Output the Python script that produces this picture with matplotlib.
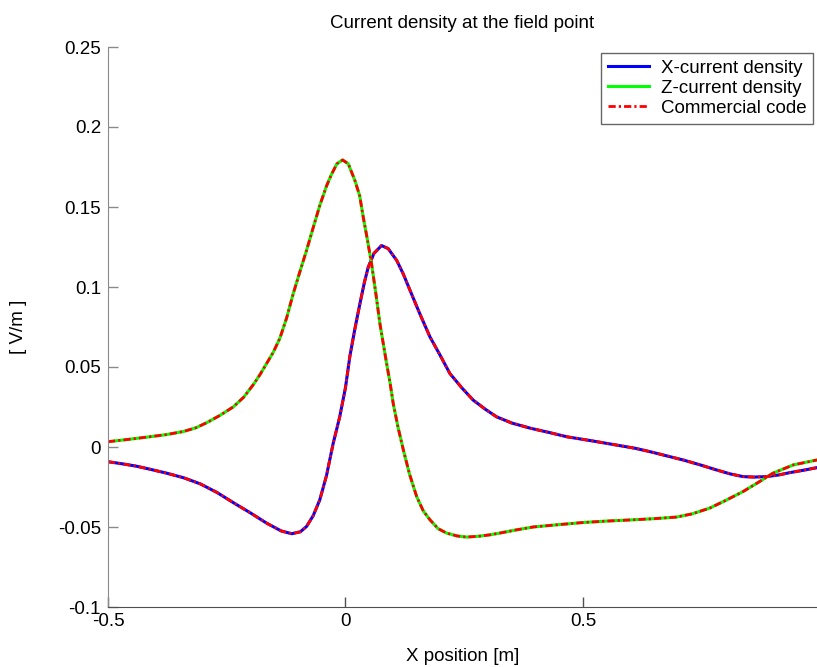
import numpy as np
import matplotlib
matplotlib.use("Agg")
import matplotlib.pyplot as plt

plt.rcParams["font.family"] = ["Liberation Sans", "DejaVu Sans"]

# X-current density (blue)
x_pos_jx = [-0.500, -0.470, -0.440, -0.410, -0.376, -0.340, -0.306, -0.270, -0.236,
            -0.200, -0.166, -0.135, -0.113, -0.095, -0.082, -0.068, -0.054, -0.040,
            -0.026, -0.012, 0.000, 0.0095, 0.020, 0.0305, 0.040, 0.048, 0.060, 0.076,
            0.090, 0.108, 0.122, 0.136, 0.157, 0.178, 0.200, 0.220, 0.245, 0.269,
            0.295, 0.318, 0.350, 0.390, 0.430, 0.466, 0.520, 0.571, 0.610, 0.641,
            0.680, 0.711, 0.745, 0.781, 0.810, 0.837, 0.860, 0.887, 0.912, 0.936,
            0.965, 0.993]
jx = [-0.0092, -0.0105, -0.0120, -0.0140, -0.0164, -0.0193, -0.0230, -0.0285, -0.0348,
      -0.0412, -0.0476, -0.0525, -0.0542, -0.0530, -0.0497, -0.0430, -0.0330, -0.0180,
      0.0020, 0.0189, 0.0370, 0.0570, 0.0740, 0.0896, 0.1030, 0.1124, 0.1210, 0.1259,
      0.1240, 0.1166, 0.1080, 0.0979, 0.0830, 0.0688, 0.0570, 0.0459, 0.0370, 0.0293,
      0.0235, 0.0189, 0.0150, 0.0117, 0.0090, 0.0064, 0.0038, 0.0012, -0.0008, -0.0029,
      -0.0058, -0.0081, -0.0110, -0.0143, -0.0168, -0.0185, -0.0188, -0.0185, -0.0175, -0.0160,
      -0.0145, -0.0129]

# Z-current density (green)
x_pos_jz = [-0.500, -0.456, -0.412, -0.376, -0.341, -0.315, -0.292, -0.264, -0.236,
            -0.214, -0.194, -0.180, -0.166, -0.152, -0.138, -0.124, -0.110, -0.096,
            -0.082, -0.068, -0.054, -0.040, -0.030, -0.018, -0.006, 0.006, 0.020,
            0.030, 0.0375, 0.046, 0.055, 0.064, 0.0726, 0.080, 0.0867, 0.094, 0.1006,
            0.111, 0.122, 0.135, 0.150, 0.164, 0.178, 0.195, 0.213, 0.235, 0.255,
            0.280, 0.304, 0.325, 0.360, 0.395, 0.450, 0.500, 0.550, 0.606, 0.650,
            0.697, 0.730, 0.767, 0.800, 0.837, 0.870, 0.900, 0.943, 0.993]
jz = [0.0033, 0.0048, 0.0064, 0.0078, 0.0097, 0.0120, 0.0152, 0.0198, 0.0251,
      0.0312, 0.0390, 0.0452, 0.0522, 0.0592, 0.0680, 0.0805, 0.0958, 0.1095,
      0.1228, 0.1370, 0.1510, 0.1630, 0.1700, 0.1770, 0.1794, 0.1770, 0.1665,
      0.1570, 0.1436, 0.1300, 0.1145, 0.0960, 0.0771, 0.0640, 0.0522, 0.0400, 0.0272,
      0.0120, -0.0019, -0.0170, -0.0310, -0.0400, -0.0455, -0.0510, -0.0538, -0.0556, -0.0563,
      -0.0558, -0.0549, -0.0538, -0.0518, -0.0500, -0.0485, -0.0472, -0.0463, -0.0455, -0.0448,
      -0.0438, -0.0418, -0.0382, -0.0335, -0.0279, -0.0220, -0.0164, -0.0112, -0.0081]

# commercial code reference, lies on top of both curves
comm_jx = jx
comm_jz = jz

fig = plt.figure(figsize=(8.17, 6.67), dpi=100)
ax = fig.add_axes([108 / 817, 60 / 667, 1 - 108 / 817, 560 / 667])

ax.plot(x_pos_jx, jx, color="#0000ff", lw=2.2, label="X-current density")
ax.plot(x_pos_jz, jz, color="#00ff00", lw=2.2, label="Z-current density")
dashdot = (0, (2.6, 1.1, 0.8, 1.1))
ax.plot(x_pos_jx, comm_jx, color="#ff0000", lw=2.0, ls=dashdot, label="Commercial code")
ax.plot(x_pos_jz, comm_jz, color="#ff0000", lw=2.0, ls=dashdot)

ax.set_xlim(-0.5, 0.993)
ax.set_ylim(-0.1, 0.25)
ax.set_xticks([-0.5, 0, 0.5])
ax.set_xticklabels(["-0.5", "0", "0.5"])
ax.set_yticks(np.arange(-0.1, 0.26, 0.05))
ax.set_yticklabels(["-0.1", "-0.05", "0", "0.05", "0.1", "0.15", "0.2", "0.25"])

for side in ["top", "right"]:
    ax.spines[side].set_visible(False)
ax.spines["left"].set_color("#8a8a8a")
ax.spines["bottom"].set_color("#505050")
ax.tick_params(direction="in", length=7, width=1, labelsize=13.5, colors="black")
ax.tick_params(axis="y", color="#8a8a8a", pad=5)
ax.tick_params(axis="x", color="#505050", pad=4)

ax.set_title("Current density at the field point", fontsize=13.5, pad=14)
ax.set_xlabel("X position [m]", fontsize=13.5, labelpad=13)
ax.set_ylabel("[ V/m ]", fontsize=13.5, labelpad=22)

leg = ax.legend(loc="upper right", bbox_to_anchor=(0.9944, 0.9895), fontsize=13.5,
                frameon=True, fancybox=False, handlelength=2.2, handletextpad=0.6,
                labelspacing=0.16, borderpad=0.36, borderaxespad=0.0)
leg.get_frame().set_edgecolor("#404040")
leg.get_frame().set_linewidth(1.0)

fig.savefig("out.png", dpi=100)
